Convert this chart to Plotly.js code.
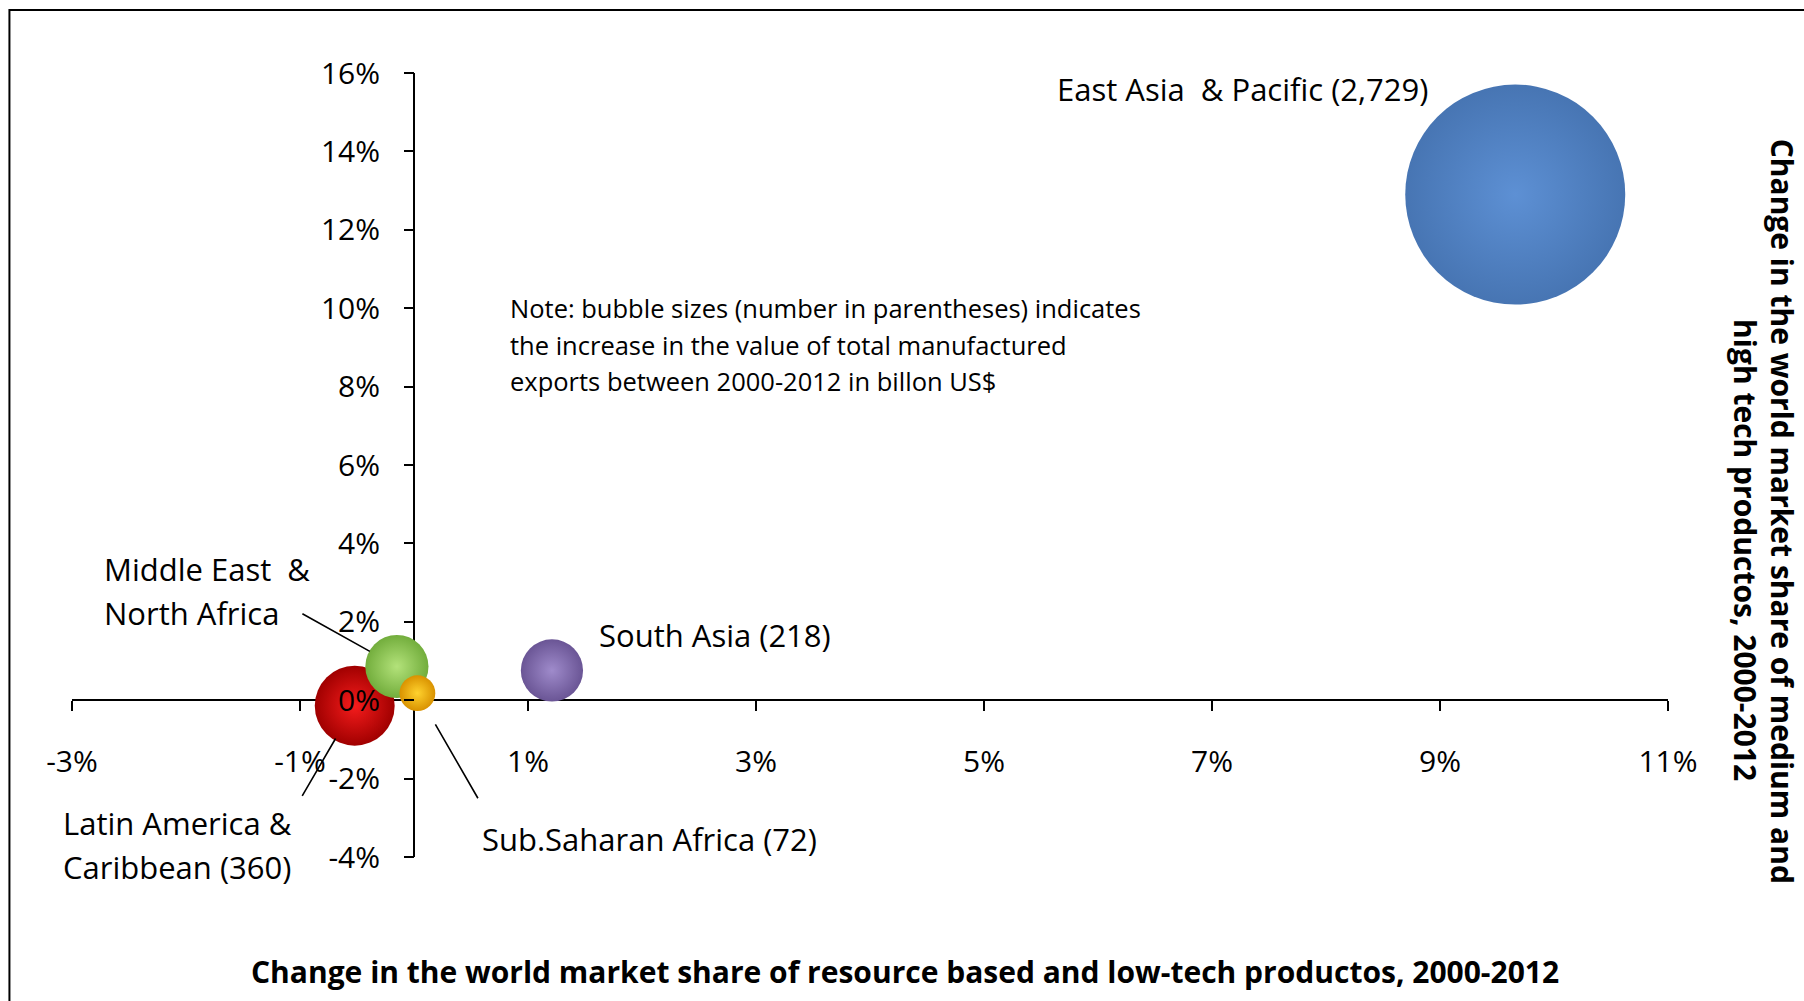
<!DOCTYPE html>
<html>
<head>
<meta charset="utf-8">
<script src="https://cdn.plot.ly/plotly-3.0.1.min.js"></script>
<style>
  html, body { margin: 0; padding: 0; background: #ffffff; }
  #chart { width: 1804px; height: 1001px; }
</style>
</head>
<body>
<div id="chart"></div>
<script>
// Regions, drawn in this order so the small bubbles sit on top of the red one
const regions = ['East Asia & Pacific', 'South Asia', 'Latin America & Caribbean', 'Middle East & North Africa', 'Sub-Saharan Africa'];
// Change in world market share of resource based and low-tech products (percentage points)
const lowTechShareChange = [9.66, 1.21, -0.52, -0.15, 0.03];
// Change in world market share of medium and high tech products (percentage points)
const highTechShareChange = [12.9, 0.76, -0.14, 0.86, 0.18];
// Increase in total manufactured exports 2000-2012, billion US$
const exportIncrease = [2729, 218, 360, 225, 72];

const bubbleLabels = [
  ['East Asia\u00a0 & Pacific (2,729)'],
  ['South Asia (218)'],
  ['Latin America &', 'Caribbean (360)'],
  ['Middle East\u00a0 &', 'North Africa'],
  ['Sub.Saharan Africa (72)']
];

const xTickValues = [-3, -1, 1, 3, 5, 7, 9, 11];
const xTickLabels = ['-3%', '-1%', '1%', '3%', '5%', '7%', '9%', '11%'];
const yTickValues = [-4, -2, 0, 2, 4, 6, 8, 10, 12, 14, 16];
const yTickLabels = ['-4%', '-2%', '0%', '2%', '4%', '6%', '8%', '10%', '12%', '14%', '16%'];

const noteLines = [
  'Note: bubble sizes (number in parentheses) indicates',
  'the increase in the value of total manufactured',
  'exports between 2000-2012 in billon US$'
];
const xTitle = 'Change in the world market share of resource based and low-tech productos, 2000-2012';
const yTitleLines = ['Change in the world market share of medium and', 'high tech productos, 2000-2012'];

// ---- styling ----
// radial gradient: marker colour is the rim, gradient colour is the centre
const bubbleRimColors = ['#4775b3', '#6a5595', '#a00000', '#72ad3c', '#d99200'];
const bubbleCenterColors = ['#5d90d4', '#9f8bcb', '#f51c1c', '#b3e27a', '#ffd22e'];
const FONT = '"Open Sans", Lato, sans-serif';
const TICK_SIZE = 30;
const LABEL_SIZE = 31;
const LINE_GAP = 44;

// label placement relative to each bubble centre, in pixels
const labelPlacement = [
  { xanchor: 'right', xshift: -86, yshift: 106 },
  { xanchor: 'left', xshift: 46, yshift: 35 },
  { xanchor: 'left', xshift: -293, yshift: -117 },
  { xanchor: 'left', xshift: -294, yshift: 97 },
  { xanchor: 'left', xshift: 64, yshift: -146 }
];
// leader lines from label to bubble (null = none)
const leaderLines = [
  null,
  null,
  { ax: -53, ay: 91, standoff: 38 },
  { ax: -95, ay: -53, standoff: 31 },
  { ax: 61, ay: 106, standoff: 36 }
];

const maxDiameter = 220;
const sizeRef = 2 * Math.max(...exportIncrease) / (maxDiameter * maxDiameter);

const bubbles = {
  type: 'scatter',
  mode: 'markers',
  x: lowTechShareChange,
  y: highTechShareChange,
  text: regions,
  hoverinfo: 'text',
  cliponaxis: false,
  marker: {
    size: exportIncrease,
    sizemode: 'area',
    sizeref: sizeRef,
    color: bubbleRimColors,
    opacity: 1,
    line: { width: 0 },
    gradient: { type: 'radial', color: bubbleCenterColors }
  },
  showlegend: false
};

const annotations = [];

regions.forEach((r, i) => {
  const p = labelPlacement[i];
  bubbleLabels[i].forEach((line, k) => {
    annotations.push({
      x: lowTechShareChange[i], y: highTechShareChange[i], xref: 'x', yref: 'y',
      text: line, showarrow: false,
      xanchor: p.xanchor, yanchor: 'middle',
      xshift: p.xshift, yshift: p.yshift - k * LINE_GAP,
      borderpad: 0,
      font: { family: FONT, size: LABEL_SIZE, color: '#000' }
    });
  });
  const l = leaderLines[i];
  if (l) {
    annotations.push({
      x: lowTechShareChange[i], y: highTechShareChange[i], xref: 'x', yref: 'y',
      text: ' ', showarrow: true, arrowhead: 0, arrowwidth: 1.6, arrowcolor: '#000',
      ax: l.ax, ay: l.ay, standoff: l.standoff, borderpad: 0,
      font: { size: 1 }
    });
  }
});

// explanatory note
const noteY = [0.700, 0.6525, 0.607];
noteLines.forEach((line, k) => {
  annotations.push({
    x: 0.274, y: noteY[k], xref: 'paper', yref: 'paper',
    text: line, showarrow: false, xanchor: 'left', yanchor: 'middle', borderpad: 0,
    font: { family: FONT, size: 25.5, color: '#000' }
  });
});

// axis titles
annotations.push({
  x: 0.5218, y: -0.146, xref: 'paper', yref: 'paper',
  text: xTitle, showarrow: false, xanchor: 'center', yanchor: 'middle',
  font: { family: FONT, size: 30, color: '#000', weight: 700 }
});
const yTitleX = [1.0714, 1.0482];
const yTitleY = [0.4405, 0.3916];
yTitleLines.forEach((line, k) => {
  annotations.push({
    x: yTitleX[k], y: yTitleY[k], xref: 'paper', yref: 'paper',
    text: line, showarrow: false, textangle: 90, xanchor: 'center', yanchor: 'middle',
    borderpad: 0,
    font: { family: FONT, size: 30, color: '#000', weight: 700 }
  });
});

const layout = {
  width: 1804,
  height: 1001,
  margin: { l: 72, r: 136, t: 73, b: 144 },
  paper_bgcolor: '#ffffff',
  plot_bgcolor: 'rgba(0,0,0,0)',
  showlegend: false,
  xaxis: {
    range: [-3, 11],
    anchor: 'free',
    position: 0.2,
    tickvals: xTickValues,
    ticktext: xTickLabels,
    ticks: 'outside', ticklen: 10, tickwidth: 2, tickcolor: '#000',
    ticklabelstandoff: 25,
    tickfont: { family: FONT, size: TICK_SIZE, color: '#000' },
    showgrid: false, showline: false,
    zeroline: true, zerolinecolor: '#000', zerolinewidth: 2,
    fixedrange: true
  },
  yaxis: {
    range: [-4, 16],
    anchor: 'free',
    position: 3 / 14,
    tickvals: yTickValues,
    ticktext: yTickLabels,
    ticks: 'outside', ticklen: 10, tickwidth: 2, tickcolor: '#000',
    ticklabelstandoff: 18,
    tickfont: { family: FONT, size: TICK_SIZE, color: '#000' },
    showgrid: false, showline: false,
    zeroline: true, zerolinecolor: '#000', zerolinewidth: 2,
    fixedrange: true
  },
  shapes: [{
    type: 'rect', xref: 'paper', yref: 'paper',
    x0: -0.0392, y0: 1.0804, x1: 1.2, y1: -0.3,
    line: { color: '#000', width: 2 }, fillcolor: 'rgba(0,0,0,0)', layer: 'below'
  }],
  annotations: annotations
};

Plotly.newPlot('chart', [bubbles], layout, { displayModeBar: false, staticPlot: true });
</script>
</body>
</html>
